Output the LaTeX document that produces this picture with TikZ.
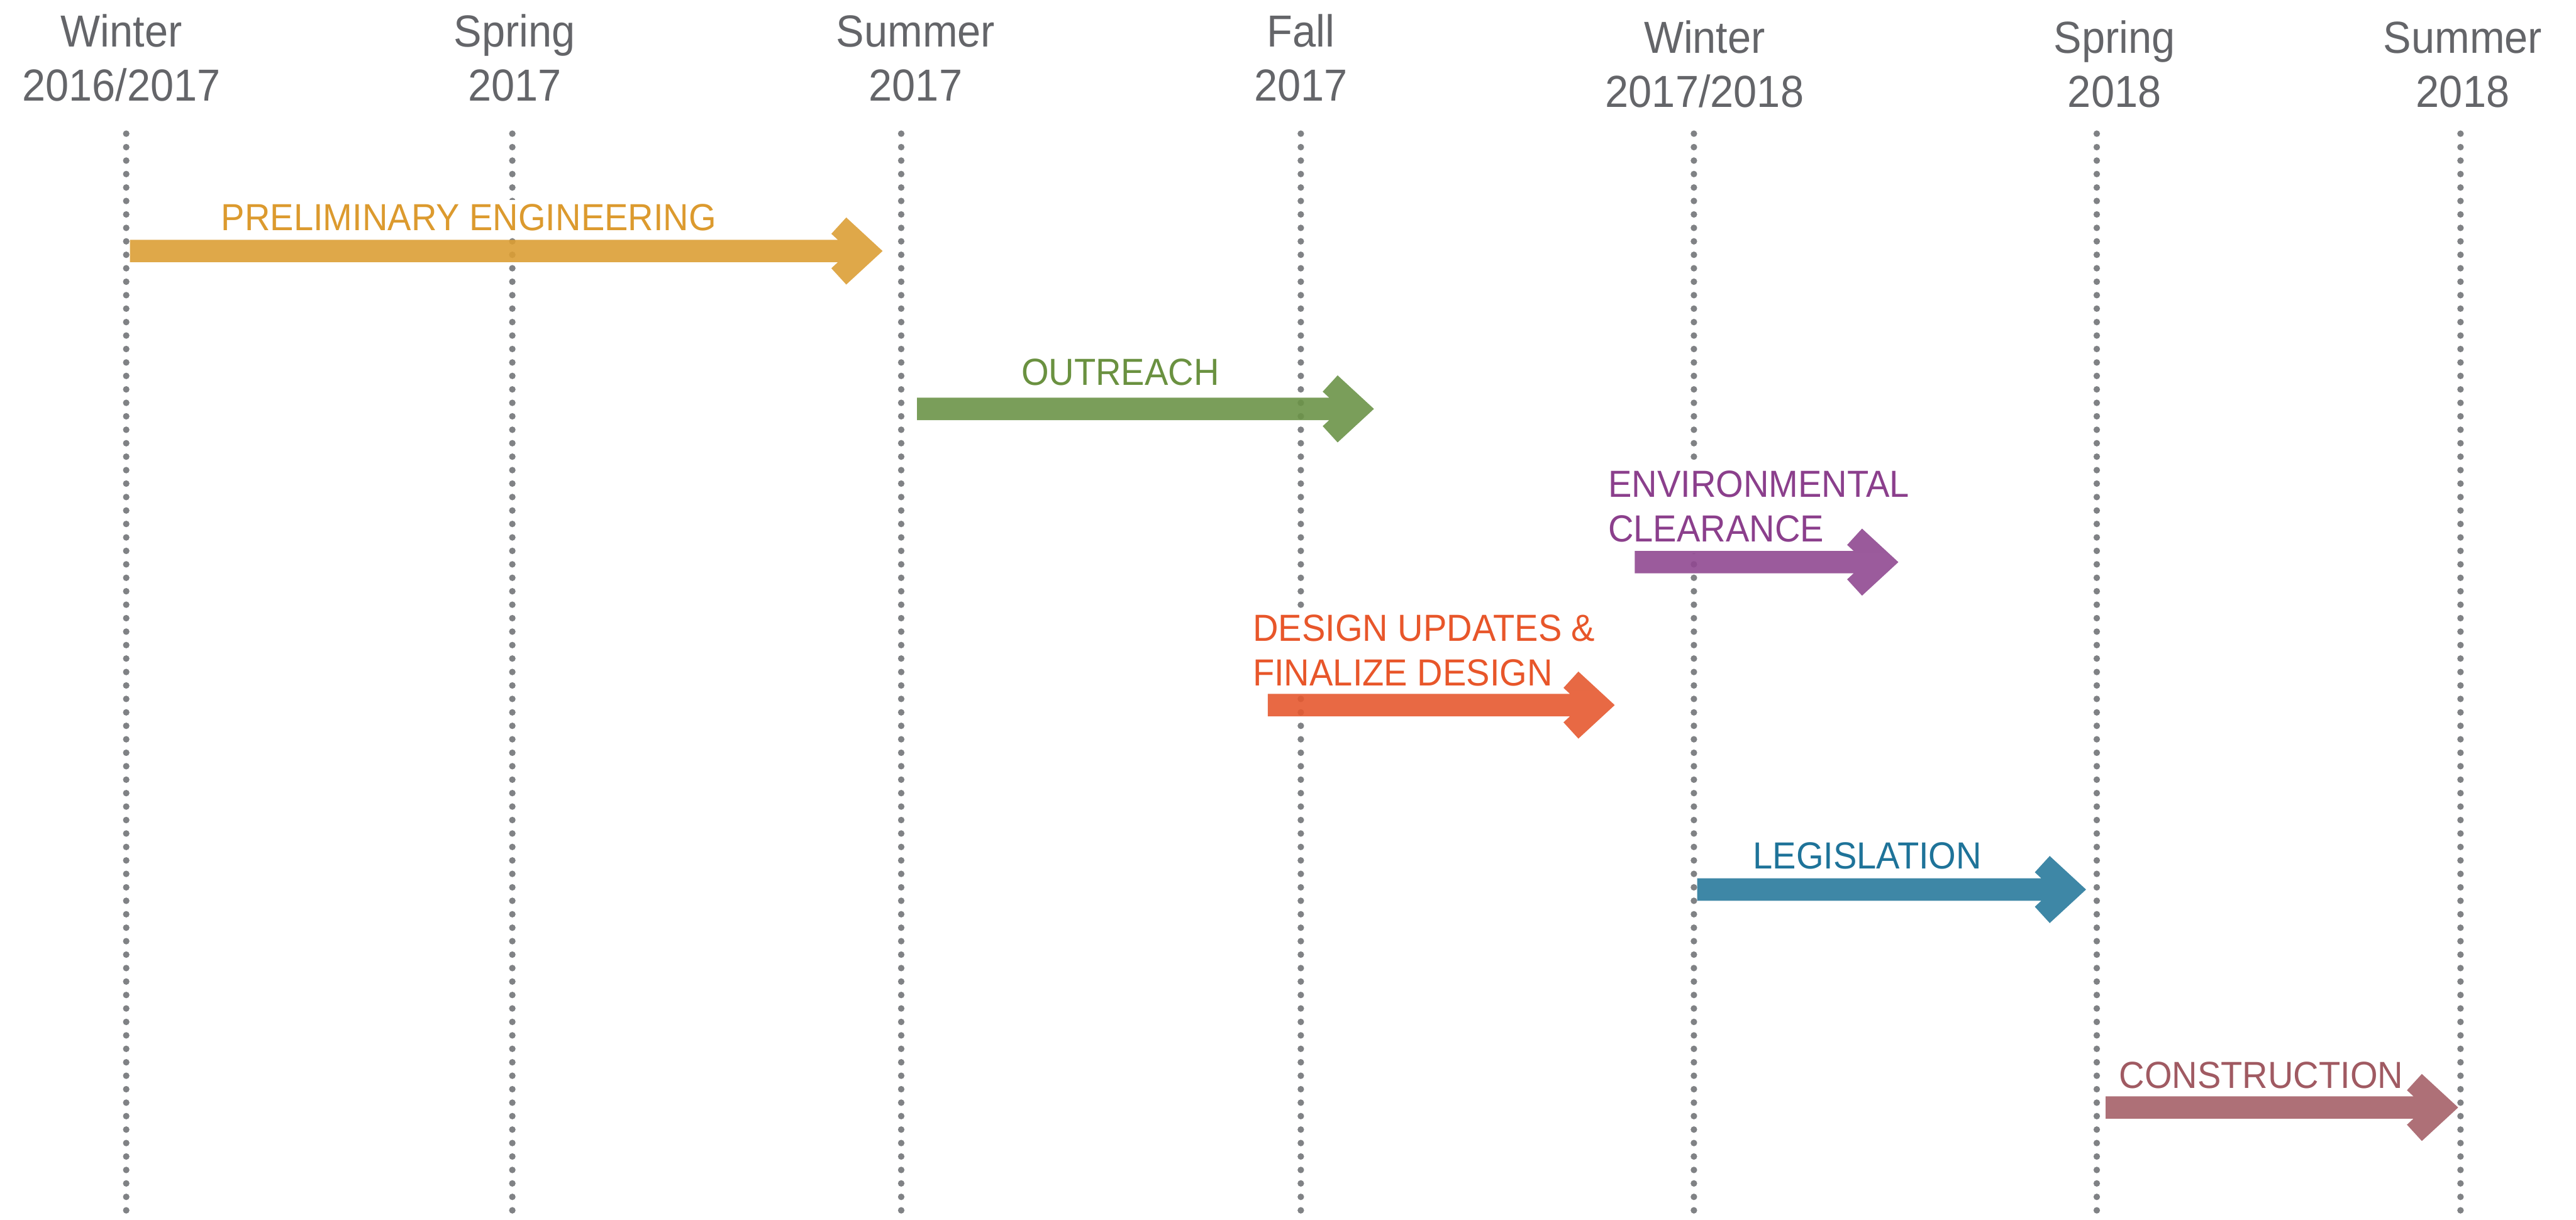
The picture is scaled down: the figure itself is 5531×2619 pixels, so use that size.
\documentclass[tikz,border=0pt]{standalone}
\usepackage{fontspec}
\setmainfont{Liberation Sans}[FakeStretch=0.935]
\usetikzlibrary{calc}

\definecolor{hdrgray}{HTML}{646569}
\definecolor{dotgray}{HTML}{808285}
% arrow fills are laid down at 90% opacity, so they are mixed a little deeper
\definecolor{peArrow}{HTML}{DB9E35}\definecolor{peText}{HTML}{DC9A2E}
\definecolor{orArrow}{HTML}{6B9348}\definecolor{orText}{HTML}{6A9140}
\definecolor{ecArrow}{HTML}{904991}\definecolor{ecText}{HTML}{8B3F8C}
\definecolor{duArrow}{HTML}{E55930}\definecolor{duText}{HTML}{E8562A}
\definecolor{lgArrow}{HTML}{297A9C}\definecolor{lgText}{HTML}{1E7399}
\definecolor{coArrow}{HTML}{A56068}\definecolor{coText}{HTML}{A05A62}

% block arrow with a notched chevron head, from #1 (tail centre) to #2 (tip)
\newcommand\phasearrow[3]{%
  \fill[phasefill=#3]
    ($(#1)+(0,-24)$) -- ($(#2)+(-96,-24)$) -- ($(#2)+(-110,-37)$) --
    ($(#2)+(-78,-72)$) -- (#2) -- ($(#2)+(-78,72)$) --
    ($(#2)+(-110,37)$) -- ($(#2)+(-96,24)$) -- ($(#1)+(0,24)$) -- cycle;}

\begin{document}
\begin{tikzpicture}[x=0.1pt, y=-0.1pt,
  season/.style={anchor=base, align=center, inner sep=0pt, text=hdrgray,
    font=\fontsize{9.64pt}{11.6pt}\selectfont},
  guide/.style={draw=dotgray, line width=1.4pt, line cap=round,
    dash pattern=on 0pt off 2.89pt},
  phase/.style={anchor=base west, align=left, inner xsep=0pt, inner ysep=0.9pt,
    fill=white, font=\fontsize{8.1pt}{9.6pt}\selectfont},
  phasefill/.style={fill=#1, fill opacity=0.9},
]
\useasboundingbox (0,0) rectangle (5531,2619);

% season headings (placed by the baseline of their lower line)
\node[season] (h1) at (261,217)  {Winter\\2016/2017};
\node[season] (h2) at (1105,217) {Spring\\2017};
\node[season] (h3) at (1966,217) {Summer\\2017};
\node[season] (h4) at (2793,217) {Fall\\2017};
\node[season] (h5) at (3660,230) {Winter\\2017/2018};
\node[season] (h6) at (4540,230) {Spring\\2018};
\node[season] (h7) at (5288,230) {Summer\\2018};

% dotted season guides
\foreach \i/\gx in {1/271,2/1100,3/1935,4/2793,5/3637,6/4502,7/5283}{
  \coordinate (g\i t) at (\gx,287);
  \coordinate (g\i b) at (\gx,2625);
  \draw[guide] (g\i t) -- (g\i b);
}

% phase labels (placed by the baseline of their last line)
\node[phase, text=peText] (peL) at (473,495)   {PRELIMINARY ENGINEERING};
\node[phase, text=orText] (orL) at (2191,827)  {OUTREACH};
\node[phase, text=ecText, inner ysep=2.4pt] (ecL) at (3451,1163) {ENVIRONMENTAL\\CLEARANCE};
\node[phase, text=duText] (duL) at (2688,1473) {DESIGN UPDATES \&\\FINALIZE DESIGN};
\node[phase, text=lgText] (lgL) at (3762,1866) {LEGISLATION};
\node[phase, text=coText] (coL) at (4548,2337) {CONSTRUCTION};

% phase arrows
\coordinate (peS) at (279,539);   \coordinate (peE) at (1895,539);
\coordinate (orS) at (1969,878);  \coordinate (orE) at (2950,878);
\coordinate (ecS) at (3510,1207); \coordinate (ecE) at (4076,1207);
\coordinate (duS) at (2722,1514); \coordinate (duE) at (3467,1514);
\coordinate (lgS) at (3644,1910); \coordinate (lgE) at (4479,1910);
\coordinate (coS) at (4521,2378); \coordinate (coE) at (5278,2378);
\phasearrow{peS}{peE}{peArrow}
\phasearrow{orS}{orE}{orArrow}
\phasearrow{ecS}{ecE}{ecArrow}
\phasearrow{duS}{duE}{duArrow}
\phasearrow{lgS}{lgE}{lgArrow}
\phasearrow{coS}{coE}{coArrow}
\end{tikzpicture}
\end{document}
